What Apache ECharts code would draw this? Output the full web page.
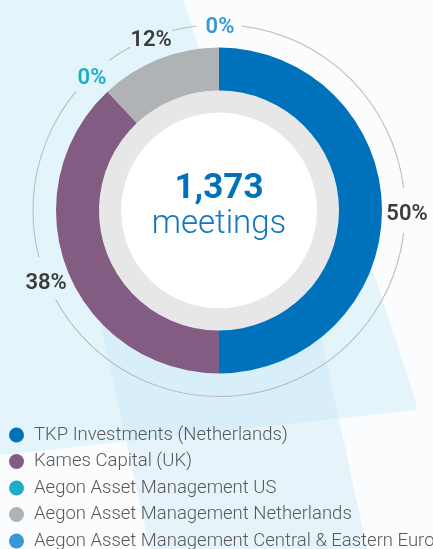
<!DOCTYPE html>
<html>
<head>
<meta charset="utf-8">
<script src="https://cdn.jsdelivr.net/npm/echarts@6/dist/echarts.min.js"></script>
<style>
  html, body { margin: 0; padding: 0; background: #fff; }
  #chart { width: 433px; height: 549px; }
</style>
</head>
<body>
<div id="chart"></div>
<script>
const managers = [
  'TKP Investments (Netherlands)',
  'Kames Capital (UK)',
  'Aegon Asset Management US',
  'Aegon Asset Management Netherlands',
  'Aegon Asset Management Central & Eastern Europe'
]
const shares = [50, 38, 0, 12, 0]
const colors = ['#0071bb', '#825c82', '#1eadc8', '#b0b3b6', '#3698d8']
const totalMeetings = '1,373'
const totalUnit = 'meetings'

const font = 'Roboto, "Open Sans", sans-serif'
const center = [219, 210.5]
const gapDeg = 7

// where each label sits, in degrees clockwise from the top
const total = shares.reduce((a, b) => a + b, 0)
let acc = 0
const mids = shares.map(v => {
  const m = (acc + v / 2) / total * 360
  acc += v
  return m
})

// thin outer ring, broken where the labels are
const sorted = mids.slice().sort((a, b) => a - b)
const pts = [sorted[sorted.length - 1] - 360, ...sorted]
const ring = []
let pos = 0
for (let i = 0; i < pts.length - 1; i++) {
  const s = pts[i] + gapDeg
  const e = pts[i + 1] - gapDeg
  if (s > pos) ring.push({ value: s - pos, itemStyle: { color: 'rgba(0,0,0,0)' } })
  if (e > s) ring.push({ value: e - s, itemStyle: { color: '#b9b9b9' } })
  pos = Math.max(pos, e)
}
if (pos < 360) ring.push({ value: 360 - pos, itemStyle: { color: 'rgba(0,0,0,0)' } })

const plain = {
  type: 'pie',
  center,
  startAngle: 90,
  silent: true,
  avoidLabelOverlap: false,
  label: { show: false },
  labelLine: { show: false },
  emphasis: { disabled: true }
}

const chart = echarts.init(document.getElementById('chart'), null, { renderer: 'canvas' })

chart.setOption({
  backgroundColor: '#fafcfe',
  animation: false,
  color: colors,
  legend: {
    orient: 'vertical',
    left: 9,
    top: 425,
    height: 300,
    padding: 0,
    icon: 'circle',
    itemWidth: 15,
    itemHeight: 15,
    itemGap: 6.5,
    selectedMode: false,
    data: managers,
    textStyle: {
      fontFamily: font,
      fontSize: 18.5,
      fontWeight: 300,
      color: '#585858',
      lineHeight: 20,
      padding: [0, 0, 0, 5]
    }
  },
  graphic: [
    // light blue backdrop shapes
    { type: 'polygon', z: -100, silent: true,
      shape: { points: [[0, 0], [183, 0], [235, 160], [330, 150], [367, 253], [416, 402], [416, 410], [0, 455]] },
      style: { fill: '#e4f4fb' } },
    { type: 'polygon', z: -99, silent: true,
      shape: { points: [[95, 300], [300, 240], [367, 549], [150, 549]] },
      style: { fill: 'rgba(196,226,243,0.35)' } },
    { type: 'text', z: 100, silent: true, x: center[0], y: 189,
      style: { text: totalMeetings, fill: '#0071bb', font: `bold 35px ${font}`,
        textAlign: 'center', textVerticalAlign: 'middle' } },
    { type: 'text', z: 100, silent: true, x: center[0], y: 225,
      style: { text: totalUnit, fill: '#0f77c0', font: `300 33px ${font}`,
        textAlign: 'center', textVerticalAlign: 'middle' } }
  ],
  series: [
    Object.assign({}, plain, {
      name: 'ring',
      radius: [185.5, 186.5],
      data: ring
    }),
    Object.assign({}, plain, {
      name: 'disc',
      radius: [0, 98],
      data: [{ value: 1, itemStyle: { color: '#ffffff' } }]
    }),
    Object.assign({}, plain, {
      name: 'track',
      radius: [98, 120],
      data: [{ value: 1, itemStyle: { color: '#e7e7e7' } }]
    }),
    Object.assign({}, plain, {
      name: 'Meetings',
      radius: [120, 163],
      data: managers.map((n, i) => ({ name: n, value: shares[i] }))
    }),
    Object.assign({}, plain, {
      name: 'labels',
      radius: [181, 187],
      label: {
        show: true,
        position: 'inside',
        formatter: '{c}%',
        offset: [1, 4],
        fontFamily: font,
        fontSize: 22,
        fontWeight: 600
      },
      data: shares.map((v, i) => ({
        value: v,
        itemStyle: { color: 'rgba(0,0,0,0)' },
        label: { color: v === 0 ? colors[i] : '#3c3c3c' }
      }))
    })
  ]
})
</script>
</body>
</html>
